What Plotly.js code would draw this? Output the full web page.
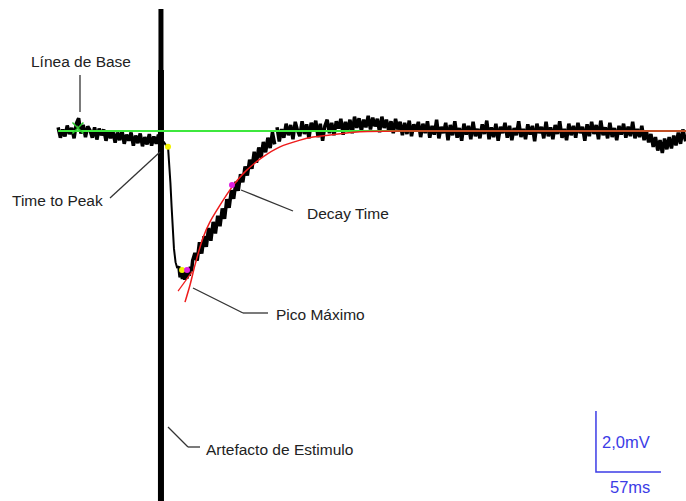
<!DOCTYPE html>
<html>
<head>
<meta charset="utf-8">
<script src="https://cdn.plot.ly/plotly-3.0.1.min.js"></script>
<style>html,body{margin:0;padding:0;background:#fff;}#chart{width:686px;height:501px;}</style>
</head>
<body>
<div id="chart"></div>
<script>
// Recorded trace (time in ms from stimulus, membrane potential change in mV)
const preTime = [-92,-90,-88,-86,-84,-82,-80,-78,-76,-74,-72,-70,-68,-66,-64,-62,-60,-58,-56,-54,-52,-50,-48,-46,-44,-42,-40,-38,-36,-34,-32,-30,-28,-26,-24,-22,-20,-18,-16,-14,-12,-10,-8,-6,-4,-2];
const preMV   = [0.12,-0.22,0.05,-0.18,0.18,-0.10,0.10,-0.24,0.25,0.42,-0.08,0.20,-0.20,0.15,0.02,-0.22,0.12,-0.28,0.08,-0.14,0.05,-0.32,0.02,-0.24,0.00,-0.38,-0.05,-0.30,0.02,-0.42,-0.12,-0.32,-0.05,-0.48,-0.15,-0.40,-0.08,-0.50,-0.20,-0.44,-0.10,-0.48,-0.18,-0.42,-0.12,-0.30];

const fallTime = [0.5,2.5,4.4,5.5,6.5,7.5,8.5,9.6,11,12.5];
const fallMV   = [-0.35,-0.46,-0.52,-1.00,-1.70,-2.45,-3.20,-3.85,-4.30,-4.50];

const decayTime = [12.5,14,15,16,17,18,19,20,21,22,23,24,25,26,28,30,32,34,36,38,40,42,44,46,48,50,52,54,56,58,60,62,64,66,68,70,72,74,76,78,80,82,84,86,88,90,92,94,96,98];
const decayMV   = [-4.50,-4.45,-4.80,-4.55,-4.85,-4.52,-4.88,-4.58,-4.84,-4.55,-4.75,-4.45,-4.60,-4.25,-4.00,-4.25,-3.65,-4.02,-3.45,-3.80,-3.18,-3.60,-2.98,-3.36,-2.78,-3.12,-2.54,-2.88,-2.24,-2.52,-1.94,-2.22,-1.66,-1.96,-1.42,-1.68,-1.16,-1.46,-0.94,-1.24,-0.68,-1.04,-0.54,-0.88,-0.36,-0.70,-0.22,-0.56,-0.04,-0.44];

const lateTime = [100,102,104,106,108,110,112,114,116,118,120,122,124,126,128,130,132,134,136,138,140,142,144,146,148,150,152,154,156,158,160,162,164,166,168,170,172,174,176,178,180,182,184,186,188,190,192,194,196,198,200,202,204,206,208,210,212,214,216,218,220,222,224,226,228,230,232,234,236,238,240,242,244,246,248,250,252,254,256,258,260,262,264,266,268,270,272,274,276,278,280,282,284,286,288,290,292,294,296,298,300,302,304,306,308,310,312,314,316,318,320,322,324,326,328,330,332,334,336,338,340,342,344,346,348,350,352,354,356,358,360,362,364,366,368,370,372,374,376,378,380,382,384,386,388,390,392,394,396,398,400,402,404,406,408,410,412,414,416,418,420,422,424,426,428,430,432,434,436,438,440,442,444,446,448,450,452,454,456,458.5];
const lateMV   = [0.12,-0.34,0.06,-0.22,0.24,-0.14,0.20,-0.27,0.30,0.02,-0.17,0.32,-0.10,0.22,-0.24,0.27,0.05,0.34,-0.20,0.24,-0.32,0.17,0.37,-0.07,0.27,-0.14,0.32,0.08,0.40,-0.12,0.30,0.02,0.37,-0.07,0.47,0.10,0.42,0.00,0.37,0.12,0.50,0.05,0.44,0.15,0.40,-0.04,0.47,0.10,0.37,0.00,0.32,-0.07,0.40,0.05,0.30,-0.14,0.27,-0.10,0.34,-0.17,0.22,0.02,0.30,-0.20,0.24,-0.07,0.32,-0.22,0.17,-0.12,0.37,-0.24,0.14,-0.07,0.27,-0.30,0.20,-0.14,0.32,-0.22,0.10,-0.32,0.24,-0.12,0.17,-0.27,0.30,-0.17,0.07,-0.24,0.22,-0.10,0.34,-0.27,0.12,-0.20,0.24,-0.32,0.14,-0.07,0.27,-0.22,0.17,-0.30,0.10,-0.14,0.32,-0.20,0.07,-0.27,0.22,-0.12,0.17,-0.34,0.24,-0.07,0.14,-0.24,0.30,-0.17,0.12,-0.27,0.20,-0.10,0.32,-0.22,0.07,-0.30,0.24,-0.14,0.17,-0.22,0.27,-0.07,0.14,-0.32,0.22,-0.17,0.30,-0.10,0.20,-0.27,0.34,-0.14,0.12,-0.24,0.27,-0.20,0.10,-0.30,0.17,-0.12,0.24,-0.22,0.14,-0.17,0.30,-0.24,0.07,-0.20,0.17,-0.30,0.00,-0.37,-0.10,-0.52,-0.20,-0.64,-0.30,-0.72,-0.25,-0.60,-0.20,-0.57,-0.15,-0.47,-0.05,-0.42,0.05,-0.34];

// Stimulus artifact
const artifactTime = [-1.8,-1.8];
const artifactMV = [4.0,-12.6];
const artifactLowTime = [-1.8,-1.8];
const artifactLowMV = [2.0,-12.6];

// Baseline
const baseTime = [-92,459];
const baseMV = [0,0];
const baseMarkTime = [-74.6];
const baseMarkMV = [0.1];

// Exponential decay fit
const fitTime = [19.3,23.7,28.1,35.1,41.2,50.0,60.5,71.9,87.7,102.6,120.2,131.6,146.5,170.2,218.4,459];
const fitMV   = [-5.61,-5.05,-4.39,-3.50,-2.98,-2.43,-1.84,-1.34,-0.85,-0.52,-0.30,-0.20,-0.13,-0.03,0,0];
const riseFitTime = [13.2,19.0,25.4];
const riseFitMV = [-5.25,-4.95,-4.62];

// Measurement points
const yellowTime = [4.4,16.7];
const yellowMV = [-0.52,-4.56];
const magentaTime = [21.1,60.5];
const magentaMV = [-4.56,-1.77];

// Scale bar
const scaleOrigin = [379.8,-11.18];
const scaleMS = 57;
const scaleMVlen = 2.0;
const scaleLabels = ["2,0mV","57ms"];

const W = 686, H = 501;
const px = x => x / W;
const py = y => 1 - y / H;

const noisy = {color:'#000', width:3.5, simplify:false};
const traces = [
  {x: preTime, y: preMV, mode:'lines', line:noisy, hoverinfo:'skip'},
  {x: fallTime, y: fallMV, mode:'lines', line:{color:'#000', width:2}, hoverinfo:'skip'},
  {x: decayTime, y: decayMV, mode:'lines', line:noisy, hoverinfo:'skip'},
  {x: lateTime, y: lateMV, mode:'lines', line:noisy, hoverinfo:'skip'},
  {x: artifactTime, y: artifactMV, mode:'lines', line:{color:'#000', width:5}, hoverinfo:'skip'},
  {x: artifactLowTime, y: artifactLowMV, mode:'lines', line:{color:'#000', width:6}, hoverinfo:'skip'},
  {x: baseTime, y: baseMV, mode:'lines', line:{color:'#3ee83e', width:2}, hoverinfo:'skip'},
  {x: baseMarkTime, y: baseMarkMV, mode:'markers', marker:{symbol:'x-thin', size:11, line:{color:'#2ecc2e', width:1.5}}, hoverinfo:'skip'},
  {x: fitTime, y: fitMV, mode:'lines', line:{color:'#ee1c1c', width:1.5, shape:'spline', smoothing:0.8}, hoverinfo:'skip'},
  {x: riseFitTime, y: riseFitMV, mode:'lines', line:{color:'#ee1c1c', width:1.2}, hoverinfo:'skip'},
  {x: yellowTime, y: yellowMV, mode:'markers', marker:{color:'#f2f200', size:6}, hoverinfo:'skip'},
  {x: magentaTime, y: magentaMV, mode:'markers', marker:{color:'#e020e0', size:6}, hoverinfo:'skip'},
  {x: [scaleOrigin[0], scaleOrigin[0], scaleOrigin[0]+scaleMS], y: [scaleOrigin[1]+scaleMVlen, scaleOrigin[1], scaleOrigin[1]],
   mode:'lines', line:{color:'#3c3ce6', width:1.5}, hoverinfo:'skip'}
];

const lineStyle = {color:'#333', width:1.3};
const seg = (x0,y0,x1,y1) => ({type:'line', xref:'paper', yref:'paper', x0:px(x0), y0:py(y0), x1:px(x1), y1:py(y1), line:lineStyle});
const shapes = [
  seg(80,75,80,112),
  seg(110,198,160,152),
  seg(241,190,293,211),
  seg(193,288,243,313), seg(243,313,268,313),
  seg(168,427,188,447), seg(188,447,200,447)
];

const txtFont = {family:'Liberation Sans, Arial, sans-serif', size:15.5, color:'#222'};
const ann = (text,x,y,font) => ({text, xref:'paper', yref:'paper', x:px(x), y:py(y), xanchor:'center', yanchor:'middle', showarrow:false, font: font || txtFont});
const blueFont = {family:'Liberation Sans, Arial, sans-serif', size:16.5, color:'#3c3ce6'};
const annotations = [
  ann('Línea de Base',81,62),
  ann('Time to Peak',58,200),
  ann('Decay Time',348,214),
  ann('Pico Máximo',320,314),
  ann('Artefacto de Estimulo',279,449),
  ann(scaleLabels[0],626,442,blueFont),
  ann(scaleLabels[1],630,487,blueFont)
];

const layout = {
  width: W, height: H,
  margin:{l:0,r:0,t:0,b:0},
  paper_bgcolor:'#fff', plot_bgcolor:'#fff',
  showlegend:false,
  xaxis:{range:[-163/1.14,(686-163)/1.14], visible:false, fixedrange:true},
  yaxis:{range:[(131-501)/30.5, 131/30.5], visible:false, fixedrange:true},
  shapes, annotations
};

Plotly.newPlot('chart', traces, layout, {staticPlot:true, displayModeBar:false});
</script>
</body>
</html>
